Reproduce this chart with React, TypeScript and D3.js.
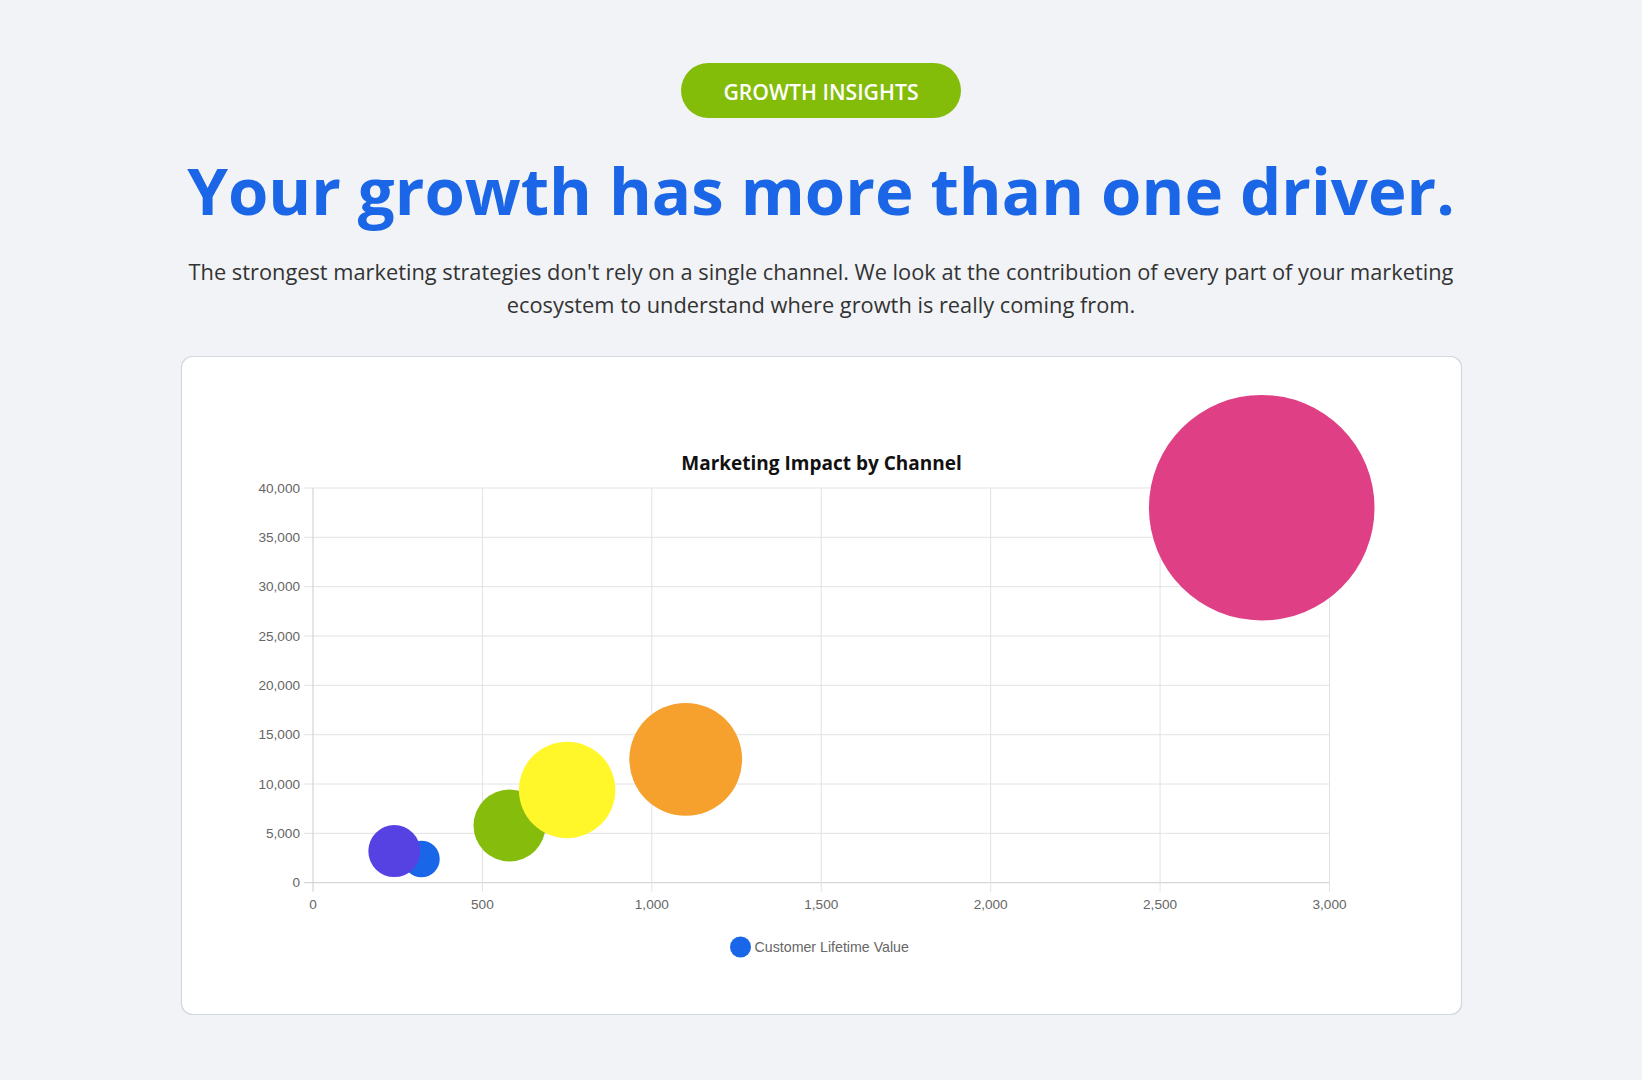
import React from 'react';
import * as d3 from 'd3';

// ---- data ----
const seriesName = 'Customer Lifetime Value';
const xValues = [320, 240, 580, 750, 1100, 2800];
const yValues = [2400, 3200, 5800, 9400, 12500, 38000];
const bubbleRadii = [18.3, 26, 36, 48.2, 56.4, 112.8];
const bubbleColors = ['#1a66e8', '#5642e3', '#86bc0b', '#fff72a', '#f6a02e', '#df3f84'];
const xTicks = [0, 500, 1000, 1500, 2000, 2500, 3000];
const yTicks = [0, 5000, 10000, 15000, 20000, 25000, 30000, 35000, 40000];

const badgeText = 'GROWTH INSIGHTS';
const headline = 'Your growth has more than one driver.';
const paragraphLines = [
  "The strongest marketing strategies don't rely on a single channel. We look at the contribution of every part of your marketing",
  'ecosystem to understand where growth is really coming from.',
];
const chartTitle = 'Marketing Impact by Channel';

const W = 1642;
const H = 1080;

export default function App() {
  const x = d3.scaleLinear().domain([0, 3000]).range([313, 1329.5]);
  const y = d3.scaleLinear().domain([0, 40000]).range([882.7, 488]);
  const r = d3.scaleIdentity();
  const fmt = d3.format(',');
  const axisFont = "'Liberation Sans', Arial, Helvetica, sans-serif";
  const headFont = "'Open Sans', 'Noto Sans', sans-serif";
  const cx = W / 2;

  return (
    <svg
      width={W}
      height={H}
      style={{ position: 'absolute', left: 0, top: 0, display: 'block' }}
    >
      <rect x={0} y={0} width={W} height={H} fill="#f1f3f7" />

      {/* badge */}
      <rect x={cx - 140} y={63} width={280} height={55} rx={27.5} fill="#84bc0a" />
      <text
        x={cx}
        y={91}
        textAnchor="middle"
        dominantBaseline="central"
        fill="#ffffff"
        fontFamily={headFont}
        fontWeight={600}
        fontSize={21.2}
      >
        {badgeText}
      </text>

      {/* headline */}
      <text
        x={cx}
        y={215}
        textAnchor="middle"
        fill="#1a66e6"
        fontFamily={headFont}
        fontWeight={700}
        fontSize={65.3}
      >
        {headline}
      </text>

      {/* paragraph */}
      {paragraphLines.map((line, i) => (
        <text
          key={i}
          x={cx}
          y={280 + i * 32.5}
          textAnchor="middle"
          fill="#333333"
          fontFamily={headFont}
          fontSize={21.8}
        >
          {line}
        </text>
      ))}

      {/* card */}
      <rect
        x={181.5}
        y={356.5}
        width={1280}
        height={658}
        rx={11}
        fill="#ffffff"
        stroke="#d3d7de"
        strokeWidth={1.2}
      />

      {/* chart title */}
      <text
        x={821.5}
        y={469.8}
        textAnchor="middle"
        fill="#111111"
        fontFamily={headFont}
        fontWeight={700}
        fontSize={19}
      >
        {chartTitle}
      </text>

      {/* grid */}
      <g>
        {yTicks.map((t) => (
          <g key={'y' + t}>
            <line
              x1={x(0) - 9}
              x2={x(3000)}
              y1={y(t)}
              y2={y(t)}
              stroke={t === 0 ? '#cccccc' : '#e2e2e2'}
              strokeWidth={1}
            />
            <text
              x={x(0) - 13}
              y={y(t)}
              textAnchor="end"
              dominantBaseline="central"
              fill="#666666"
              fontFamily={axisFont}
              fontSize={13.6}
            >
              {fmt(t)}
            </text>
          </g>
        ))}
        {xTicks.map((t) => (
          <g key={'x' + t}>
            <line
              x1={x(t)}
              x2={x(t)}
              y1={y(40000)}
              y2={y(0) + 9}
              stroke={t === 0 ? '#cccccc' : '#e2e2e2'}
              strokeWidth={1}
            />
            <text
              x={x(t)}
              y={904.3}
              textAnchor="middle"
              dominantBaseline="central"
              fill="#666666"
              fontFamily={axisFont}
              fontSize={13.6}
            >
              {fmt(t)}
            </text>
          </g>
        ))}
      </g>

      {/* bubbles */}
      <g>
        {xValues.map((xv, i) => (
          <circle
            key={i}
            cx={x(xv)}
            cy={y(yValues[i])}
            r={r(bubbleRadii[i])}
            fill={bubbleColors[i]}
          />
        ))}
      </g>

      {/* legend */}
      <circle cx={740.5} cy={947} r={10.5} fill={bubbleColors[0]} />
      <text
        x={754.6}
        y={947}
        dominantBaseline="central"
        fill="#666666"
        fontFamily={axisFont}
        fontSize={14.2}
      >
        {seriesName}
      </text>
    </svg>
  );
}
